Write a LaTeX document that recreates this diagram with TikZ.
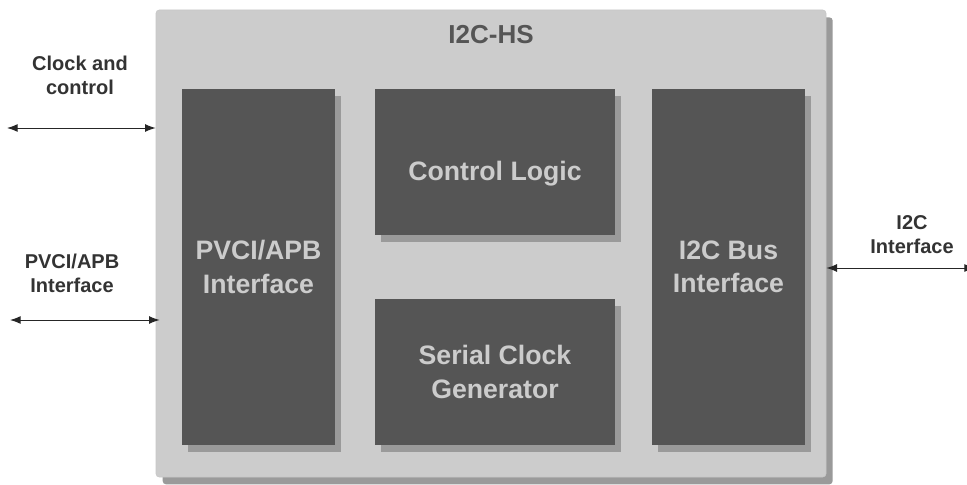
\documentclass[tikz,border=0pt]{standalone}
\usepackage{fontspec}
\setmainfont{Liberation Sans}
\usetikzlibrary{arrows.meta,shadows}

\definecolor{hsgray}{HTML}{CCCCCC}
\definecolor{hsshadow}{HTML}{9A9A9A}
\definecolor{blockgray}{HTML}{555555}
\definecolor{labelgray}{HTML}{333333}

\begin{document}
\begin{tikzpicture}[x=0.75pt,y=-0.75pt,
  outer/.style={rectangle,rounded corners=2.5pt,fill=hsgray,draw=black!22,line width=0.5pt,
    minimum width=502.5pt,minimum height=350.25pt,inner sep=0pt,
    general shadow={fill=hsshadow,draw=none,shadow xshift=5pt,shadow yshift=-5.5pt}},
  block/.style={rectangle,fill=blockgray,text=hsgray,align=center,inner sep=0pt,
    font=\bfseries\fontsize{20}{25}\selectfont,
    general shadow={fill=hsshadow,shadow xshift=4.8pt,shadow yshift=-5pt}},
  sig/.style={text=labelgray,align=center,font=\bfseries\fontsize{15}{18}\selectfont},
  link/.style={{Latex[length=8pt,width=6pt]}-{Latex[length=8pt,width=6pt]},line width=0.75pt,draw=black!85}]
\useasboundingbox (0,0) rectangle (967,485);

% outer block
\node[outer] (hs) at (491,243.5) {};
\node[text=blockgray,font=\bfseries\fontsize{19.5}{22}\selectfont] (title) at (491,35) {I2C-HS};

% inner blocks
\node[block,minimum width=114.75pt,minimum height=267pt] (pvci) at (258.5,267) {PVCI/APB\\Interface};
\node[block,minimum width=180pt,minimum height=109.5pt] (ctrl) at (495,162) {\raisebox{-14pt}[0pt][0pt]{Control Logic}};
\node[block,minimum width=180pt,minimum height=109.5pt] (sclk) at (495,372) {Serial Clock\\Generator};
\node[block,minimum width=114.75pt,minimum height=267pt] (bus) at (728.5,267) {I2C Bus\\Interface};

% signals
\node[sig] (clklbl) at (80,75) {Clock and\\control};
\node[sig] (apblbl) at (72,273) {PVCI/APB\\Interface};
\node[sig] (i2clbl) at (912,235) {I2C\\Interface};

\coordinate (clkend) at (7,128);
\coordinate (apbend) at (10,320);
\coordinate (i2cend) at (975,268);

\draw[link] (clkend) -- (clkend -| hs.west);
\draw[link] (apbend) -- ([xshift=3pt]apbend -| hs.west);
\draw[link] (i2cend -| hs.east) -- (i2cend);
\end{tikzpicture}
\end{document}
